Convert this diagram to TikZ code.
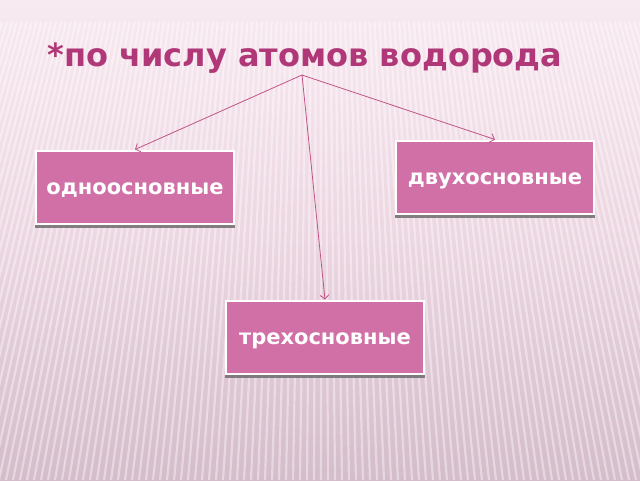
\documentclass[tikz,border=0pt]{standalone}
\usepackage{fontspec}
\setmainfont{DejaVu Sans}
\usetikzlibrary{shadows,arrows.meta}

\definecolor{titlepink}{RGB}{176,56,120}
\definecolor{boxpink}{RGB}{208,112,166}
\definecolor{arrowpink}{RGB}{192,84,134}
\definecolor{bgtop}{RGB}{248,234,241}
\definecolor{bgmid}{RGB}{236,214,225}
\definecolor{bgbot}{RGB}{212,188,202}

\tikzset{
	kind/.style={rectangle,draw=white,line width=2pt,fill=boxpink,text=white,
		minimum width=198pt,minimum height=73pt,inner sep=0pt,
		text height=15.5pt,text depth=0pt,
		font=\fontsize{21}{24}\selectfont\bfseries,
		drop shadow={shadow xshift=0pt,shadow yshift=-4pt,shadow scale=1.01,fill=black!60,opacity=0.8}},
	link/.style={-{Straight Barb[length=4pt,width=9pt]},draw=arrowpink,line width=0.8pt}
}

\begin{document}
\begin{tikzpicture}[x=1pt,y=-1pt]
	\useasboundingbox (0,0) rectangle (640,480);
	% background
	\shade[top color=bgtop,bottom color=bgbot,middle color=bgmid] (0,0) rectangle (640,480);
	\foreach \x in {-400,-393,...,1040}
		\draw[white,opacity=0.4,line width=2.2pt] ({320+(\x-320)*0.7},22) -- (\x,480);

	\node[anchor=base west,text=titlepink,font=\fontsize{32}{38}\selectfont\bfseries] (title) at (44,66) {*по числу атомов водорода};
	\coordinate (root) at (302,75);

	\node[kind] (one)   at (135,187) {одноосновные};
	\node[kind] (two)   at (495,177) {двухосновные};
	\node[kind] (three) at (325,337) {трехосновные};

	\draw[link] (root) -- (one.north);
	\draw[link] (root) -- (two.north);
	\draw[link] (root) -- (three.north);
\end{tikzpicture}
\end{document}
